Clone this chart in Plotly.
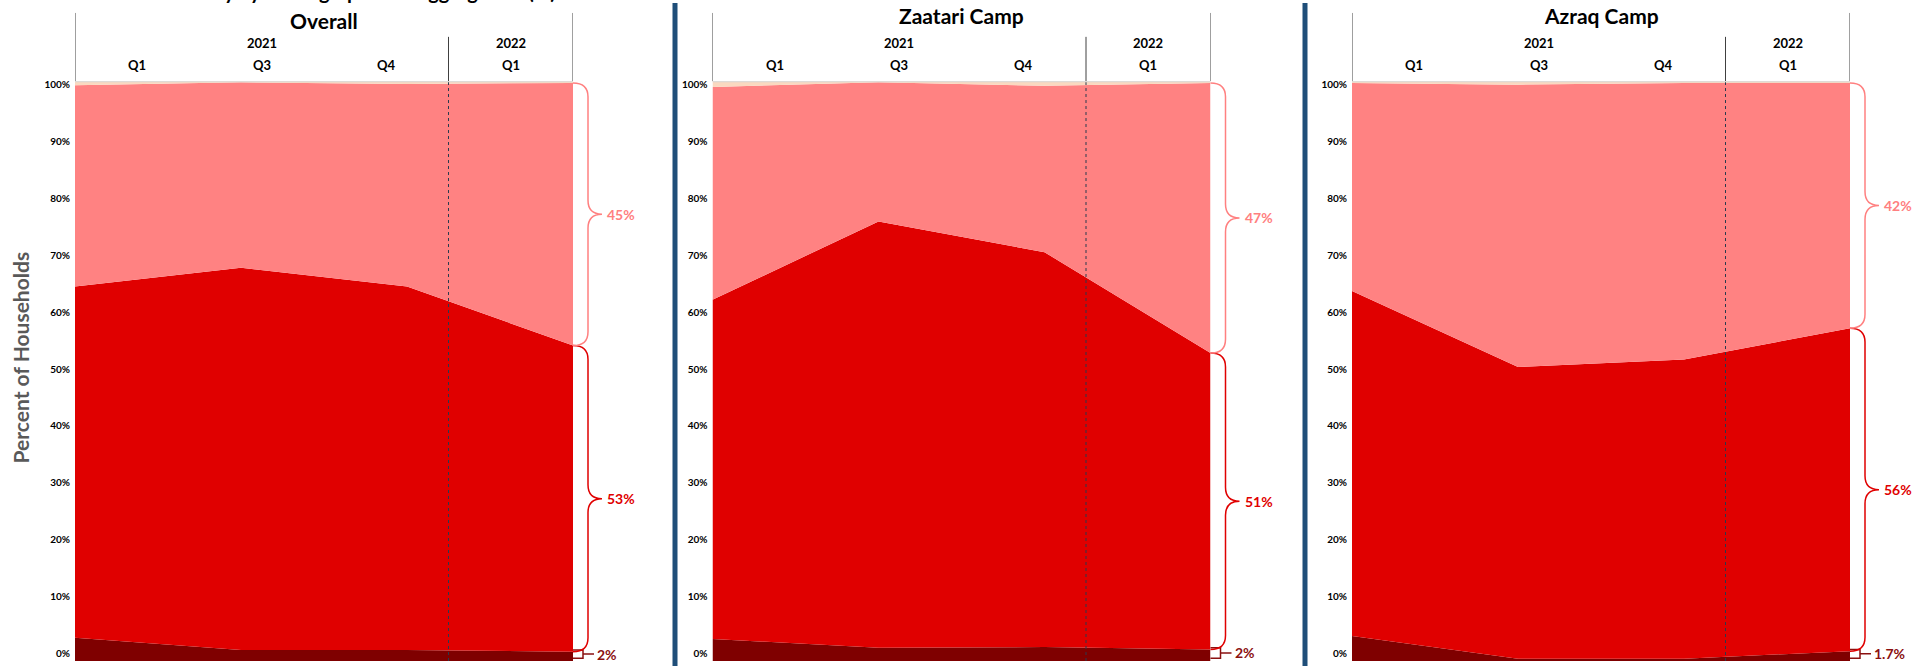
import plotly.graph_objects as go

# ---------------- data ----------------
periods = ["2021 Q1", "2021 Q3", "2021 Q4", "2022 Q1"]
quarters = ["Q1", "Q3", "Q4", "Q1"]
years = ["2021", "2021", "2021", "2022"]
panel_titles = ["Overall", "Zaatari Camp", "Azraq Camp"]
layer_names = ["Severely Food Insecure", "Moderately Food Insecure",
               "Marginally Food Secure", "Food Secure"]

overall_severe = [4.0, 1.9, 1.9, 1.6]
overall_moderate = [60.6, 65.9, 62.7, 52.8]
overall_marginal = [34.7, 32.0, 34.9, 45.3]
overall_secure = [0.7, 0.2, 0.5, 0.3]

zaatari_severe = [3.8, 2.3, 2.4, 2.0]
zaatari_moderate = [58.5, 73.5, 68.1, 51.1]
zaatari_marginal = [36.7, 24.0, 28.7, 46.6]
zaatari_secure = [1.0, 0.2, 0.8, 0.3]

azraq_severe = [4.3, 0.4, 0.4, 1.7]
azraq_moderate = [59.5, 50.3, 51.6, 55.7]
azraq_marginal = [35.9, 48.7, 47.7, 42.3]
azraq_secure = [0.3, 0.6, 0.3, 0.3]

overall_labels = ["2%", "53%", "45%"]
zaatari_labels = ["2%", "51%", "47%"]
azraq_labels = ["1.7%", "56%", "42%"]

y_ticks = list(range(0, 101, 10))
y_ticktext = [f"{v}%" for v in y_ticks]

# ---------------- style ----------------
W, H = 1923, 666
FONT = "Lato"
colors = ["#7F0000", "#E00000", "#FF8282", "#FAD9C0"]
brace_colors = ["#8B1010", "#E00000", "#FF8080"]
panels_px = [(75, 573), (712.5, 1210.5), (1352, 1850)]
area_top, area_bot = 78.5, 661
lab_top, lab_bot = 82, 653.5
ppu = (area_bot - area_top) / 100.0
ydom = [(H - area_bot) / H, (H - area_top) / H]
# the % labels follow their own (slightly compressed) scale, as in the reference
tick_pos = [((area_bot - lab_bot) + v / 100 * (lab_bot - lab_top)) / ppu for v in y_ticks]

panels = [
    (overall_severe, overall_moderate, overall_marginal, overall_secure, overall_labels),
    (zaatari_severe, zaatari_moderate, zaatari_marginal, zaatari_secure, zaatari_labels),
    (azraq_severe, azraq_moderate, azraq_marginal, azraq_secure, azraq_labels),
]
NH = len(quarters)  # header columns

fig = go.Figure()
shapes, annotations = [], []


def py(px):
    return 1 - px / H


def brace_path(top, bot, X, w=15, tip=29, r_px=14):
    # X maps a pixel offset from the plot's right edge to paper x
    r = min(r_px / ppu, (top - bot) / 4)
    mid = (top + bot) / 2
    return (f"M{X(0)},{top} Q{X(w)},{top} {X(w)},{top - r} L{X(w)},{mid + r} "
            f"Q{X(w)},{mid} {X(tip)},{mid} Q{X(w)},{mid} {X(w)},{mid - r} "
            f"L{X(w)},{bot + r} Q{X(w)},{bot} {X(0)},{bot}")


layout_axes = {}
last_idx = len(periods) - 1
for k, (sev, mod, mar, sec, labels) in enumerate(panels):
    n = k + 1
    sx = "" if n == 1 else str(n)
    xa, ya = f"x{sx}", f"y{sx}"
    hx = f"x{n + 3}"
    x0, x1 = panels_px[k]
    for vals, col, name in zip([sev, mod, mar, sec], colors, layer_names):
        fig.add_trace(go.Scatter(
            x=periods, y=vals, stackgroup=f"s{n}", mode="none",
            fillcolor=col, line=dict(width=0), name=name,
            xaxis=xa, yaxis=ya, showlegend=False, hoverinfo="skip"))

    layout_axes[f"xaxis{sx}"] = dict(domain=[x0 / W, x1 / W], range=[0, last_idx],
                                     type="category", visible=False, anchor=ya)
    layout_axes[f"yaxis{sx}"] = dict(
        domain=ydom, range=[0, 100], anchor=xa, side="left",
        tickvals=tick_pos, ticktext=y_ticktext, ticks="", showgrid=False,
        zeroline=False, showline=False, ticklabelstandoff=4,
        tickfont=dict(family=FONT, size=10, color="#000000", weight="bold"))
    layout_axes[f"xaxis{n + 3}"] = dict(overlaying=xa, anchor=ya, range=[0, NH],
                                        visible=False)

    # header frame lines
    for xv in (0, NH):
        shapes.append(dict(type="line", xref=hx, yref="paper", x0=xv, x1=xv,
                           y0=py(area_top), y1=py(10),
                           line=dict(color="#404040", width=1)))
    # year divider
    div_idx = years.index(years[-1])
    shapes.append(dict(type="line", xref=hx, yref="paper", x0=div_idx, x1=div_idx,
                       y0=py(area_top), y1=py(34), line=dict(color="#404040", width=1)))
    shapes.append(dict(type="line", xref=hx, yref=ya, x0=div_idx, x1=div_idx,
                       y0=0, y1=100, line=dict(color="#2A3A4E", width=1, dash="dot")))
    shapes.append(dict(type="line", xref=hx, yref=ya, x0=0, x1=NH, y0=100, y1=100,
                       line=dict(color="#D6D6D6", width=2)))

    # header text
    hfont = dict(family=FONT, size=13, color="#000", weight="bold")
    for i, q in enumerate(quarters):
        annotations.append(dict(text=q, xref=hx, yref="paper", x=i + 0.5, y=py(62.5),
                                xanchor="center", yanchor="middle",
                                showarrow=False, font=hfont))
    seen = []
    for yv in years:
        if yv not in seen:
            seen.append(yv)
    for yv in seen:
        idx = [i for i, v in enumerate(years) if v == yv]
        annotations.append(dict(text=yv, xref=hx, yref="paper",
                                x=(idx[0] + idx[-1] + 1) / 2, y=py(40.5),
                                xanchor="center", yanchor="middle",
                                showarrow=False, font=hfont))
    annotations.append(dict(text=panel_titles[k], xref=hx, yref="paper", x=NH / 2,
                            y=py(17.5 if k == 0 else 12.5), xanchor="center",
                            yanchor="middle", showarrow=False,
                            font=dict(family=FONT, size=21, color="#000", weight="bold")))

    # braces for last period (x given in paper units so they are not clipped)
    c1 = sev[-1]
    c2 = c1 + mod[-1]
    c3 = c2 + mar[-1]
    bt, bb = c1 + 0.3, 0.5
    mid = (bt + bb) / 2
    X = lambda p, x1=x1: (x1 + p) / W
    shapes.append(dict(type="path", xref="paper", yref=ya,
                       path=(f"M{X(0)},{bt} L{X(10)},{bt} L{X(10)},{bb} L{X(0)},{bb} "
                             f"M{X(10)},{mid} L{X(21)},{mid}"),
                       line=dict(color=brace_colors[0], width=1.5)))
    annotations.append(dict(text=labels[0], xref=hx, yref=ya, x=NH, y=mid,
                            xanchor="left", yanchor="middle", xshift=22, showarrow=False,
                            font=dict(family=FONT, size=14, color=brace_colors[0],
                                      weight="bold")))
    for (top, bot), lab, colr in zip([(c2, c1), (c3, c2)], labels[1:], brace_colors[1:]):
        shapes.append(dict(type="path", xref="paper", yref=ya,
                           path=brace_path(top, bot, X),
                           line=dict(color=colr, width=1.5)))
        annotations.append(dict(text=lab, xref=hx, yref=ya, x=NH, y=(top + bot) / 2,
                                xanchor="left", yanchor="middle", xshift=32,
                                showarrow=False,
                                font=dict(family=FONT, size=14, color=colr,
                                          weight="bold")))

# panel separators
for xp in (675, 1305):
    shapes.append(dict(type="line", xref="paper", yref="paper", x0=xp / W, x1=xp / W,
                       y0=0, y1=1, line=dict(color="#1F4E79", width=5)))

# y axis title and cut-off chart title
annotations.append(dict(text="Percent of Households", xref="paper", yref="paper",
                        x=20 / W, y=py(356), textangle=-90, showarrow=False,
                        xanchor="center", yanchor="middle",
                        font=dict(family=FONT, size=21, color="#595959", weight="bold")))
annotations.append(dict(text="Food Security by Demographic Disaggregation (%)",
                        xref="paper", yref="paper", x=334 / W, y=py(-12.5),
                        showarrow=False, xanchor="center", yanchor="middle",
                        font=dict(family=FONT, size=20, color="#000", weight="bold")))

fig.update_layout(width=W, height=H, margin=dict(l=0, r=0, t=0, b=0),
                  paper_bgcolor="white", plot_bgcolor="white",
                  shapes=shapes, annotations=annotations, **layout_axes)
fig.write_html("out.html", config=dict(displayModeBar=False),
               post_script="document.body.style.margin='0px';"
                           "document.body.style.overflow='hidden';")
